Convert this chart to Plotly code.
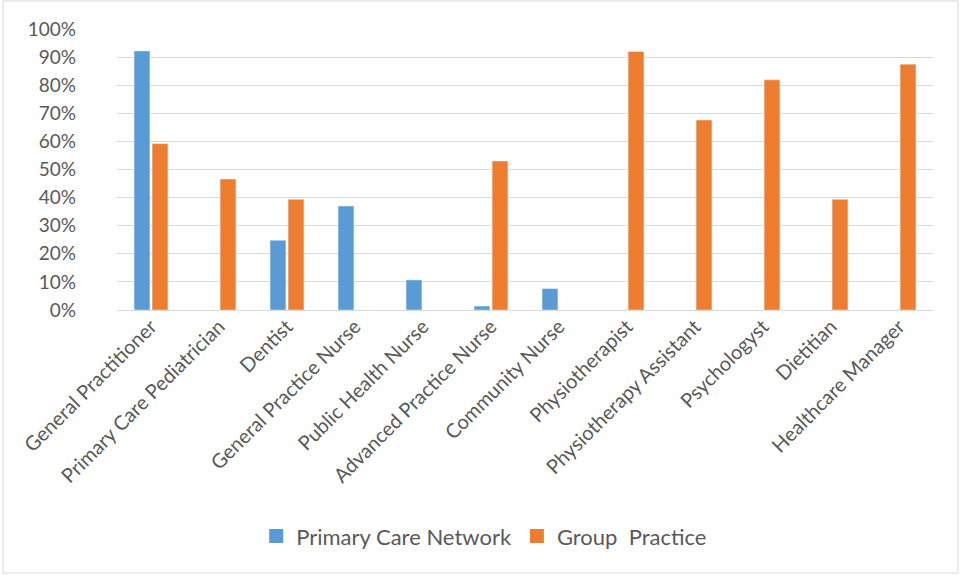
import plotly.graph_objects as go

categories = [
    "General Practitioner", "Primary Care Pediatrician", "Dentist",
    "General Practice Nurse", "Public Health Nurse", "Advanced Practice Nurse",
    "Community Nurse", "Physiotherapist", "Physiotherapy Assistant",
    "Psychologyst", "Dietitian", "Healthcare Manager",
]
primary_care_network = [0.922, None, 0.248, 0.370, 0.107, 0.014, 0.076, None, None, None, None, None]
group_practice = [0.592, 0.466, 0.394, None, None, 0.530, None, 0.920, 0.676, 0.819, 0.394, 0.875]
y_ticks = [i / 10 for i in range(11)]
y_tick_labels = [f"{i * 10}%" for i in range(11)]

FONT = "Lato, Open Sans, sans-serif"
TEXT = "#595959"
BLUE = "#5b9bd5"
ORANGE = "#ed7d31"
series = [("Primary Care Network", primary_care_network, BLUE),
          ("Group\u00a0 Practice", group_practice, ORANGE)]

fig = go.Figure()
for name, values, color in series:
    fig.add_trace(go.Bar(x=categories, y=values, name=name, showlegend=False,
                         marker=dict(color=color)))
# square legend keys
for name, values, color in series:
    fig.add_trace(go.Scatter(x=[None], y=[None], mode="markers", name=name,
                             marker=dict(symbol="square", size=14, color=color)))

fig.update_layout(
    width=961, height=575,
    margin=dict(l=117, r=28, t=29, b=265),
    paper_bgcolor="white", plot_bgcolor="white",
    barmode="group", bargap=0.47, bargroupgap=0.12,
    font=dict(family=FONT, color=TEXT),
    showlegend=True,
    legend=dict(orientation="h", x=0.45, xanchor="center", y=-0.805, yanchor="middle",
                font=dict(size=22, color=TEXT), itemwidth=30, traceorder="normal",
                tracegroupgap=0),
    shapes=[dict(type="rect", xref="paper", yref="paper", x0=-0.1397, x1=1.0306,
                 y0=-0.936, y1=1.0997, line=dict(color="#d9d9d9", width=1))],
)
fig.update_xaxes(tickangle=-45, tickfont=dict(size=20, color=TEXT), showgrid=False,
                 showline=False, ticks="")
fig.update_yaxes(range=[0, 1.0], tickvals=y_ticks, ticktext=y_tick_labels,
                 tickfont=dict(size=19, color=TEXT), showgrid=True, gridcolor="#d9d9d9",
                 gridwidth=1, zeroline=True, zerolinecolor="#d9d9d9", zerolinewidth=1,
                 ticklabelstandoff=40, showline=False)

fig.write_html("out.html")
